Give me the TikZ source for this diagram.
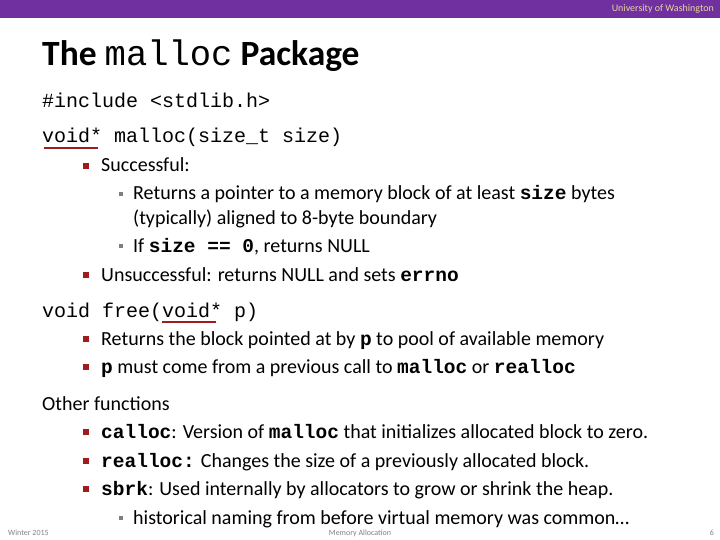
\documentclass[tikz,border=0pt]{standalone}
\usepackage{fontspec}
\setmainfont{Carlito}
\setmonofont{Liberation Mono}
\definecolor{uwpurple}{HTML}{7030A0}
\definecolor{uwgold}{HTML}{E8D3A2}
\definecolor{bred}{HTML}{A01C1C}
\definecolor{bgrey}{HTML}{808080}
\begin{document}
\begin{tikzpicture}[x=1pt,y=-1pt,
  txt/.style={anchor=base west,inner sep=0pt,font=\fontsize{20}{21}\selectfont},
  code/.style={anchor=base west,inner sep=0pt,font=\fontsize{20}{22}\selectfont\ttfamily},
  b1/.style={fill=bred,minimum size=6pt,inner sep=0pt},
  b2/.style={fill=bgrey,minimum size=4.5pt,inner sep=0pt},
  uline/.style={draw=bred,line width=2pt}]
\useasboundingbox (0,0) rectangle (720,540);
\fill[uwpurple] (0,0) rectangle (720,18);
\node[anchor=base east,inner sep=0pt,text=uwgold,font=\fontsize{10}{10}\selectfont] (uw) at (714,12) {University of Washington};
\node[anchor=base west,inner sep=0pt,font=\fontsize{35.5}{36}\selectfont] (title) at (42,66) {\textbf{The} {\ttfamily malloc} \textbf{Package}};
\node[code] (inc) at (42,108) {\#include <stdlib.h>};
\node[code] (mal) at (42,143) {void* malloc(size\_t size)};
\coordinate (u1a) at (44,148); \coordinate (u1b) at (98,148);
\draw[uline] (u1a) -- (u1b);
\newcommand\bone[3]{\node[b1] (#1b) at (86,#2-6) {}; \node[txt] (#1) at (101,#2) {#3};}
\newcommand\btwo[3]{\node[b2] (#1b) at (121,#2-6) {}; \node[txt] (#1) at (133,#2) {#3};}
\newcommand\cb[1]{{\fontsize{19.5}{21}\selectfont\ttfamily\bfseries #1}}
\bone{s1}{172}{Successful:}
\btwo{s2}{200}{Returns a pointer to a memory block of at least \cb{size} bytes}
\node[txt] (s3) at (133,225) {(typically) aligned to 8-byte boundary};
\btwo{s4}{252}{If \cb{size == 0}, returns NULL}
\bone{s5}{281}{Unsuccessful: returns NULL and sets \cb{errno}}
\node[code] (fr) at (42,317) {void free(void* p)};
\coordinate (u2a) at (162,322); \coordinate (u2b) at (216,322);
\draw[uline] (u2a) -- (u2b);
\bone{f1}{345}{Returns the block pointed at by \cb{p} to pool of available memory}
\bone{f2}{373}{\cb{p} must come from a previous call to \cb{malloc} or \cb{realloc}}
\node[txt] (oth) at (42,410) {Other functions};
\bone{o1}{438}{\cb{calloc}: Version of \cb{malloc} that initializes allocated block to zero.}
\bone{o2}{467}{\cb{realloc:} Changes the size of a previously allocated block.}
\bone{o3}{495}{\cb{sbrk}: Used internally by allocators to grow or shrink the heap.}
\btwo{o4}{524}{historical naming from before virtual memory was common…}
\node[anchor=base west,inner sep=0pt,text=bgrey,font=\fontsize{8}{9}\selectfont] (fl) at (8,535) {Winter 2015};
\node[anchor=base,inner sep=0pt,text=bgrey,font=\fontsize{8}{9}\selectfont] (fc) at (360,535) {Memory Allocation};
\node[anchor=base east,inner sep=0pt,text=bgrey,font=\fontsize{8}{9}\selectfont] (fr2) at (714,535) {6};
\end{tikzpicture}
\end{document}
